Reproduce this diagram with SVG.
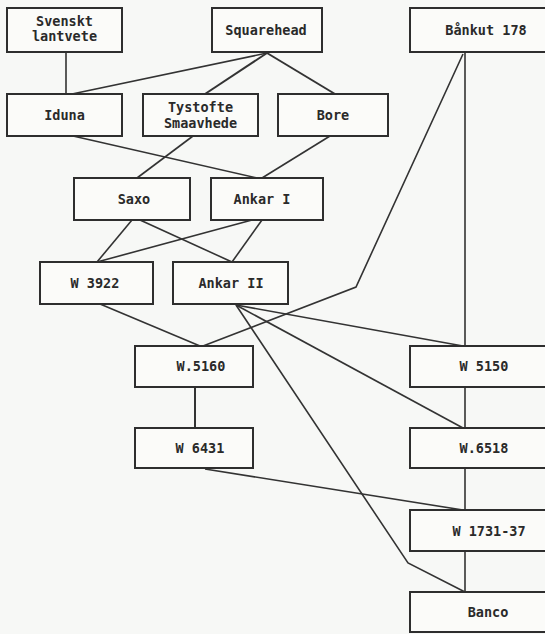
<svg xmlns="http://www.w3.org/2000/svg" width="545" height="634" viewBox="0 0 545 634">
<style>
.n rect{fill:#fbfbf9;stroke:#2e2e2e;stroke-width:2}
.n text{font-family:"DejaVu Sans Mono","Liberation Mono",monospace;font-size:13.5px;font-weight:bold;fill:#2a2a2a;text-anchor:middle}
.c line,.c polyline{stroke:#333;stroke-width:1.6;fill:none}
</style>
<rect width="545" height="634" fill="#f7f8f6"/>
<g class="c" id="connectors">
<line x1="66" y1="52" x2="66" y2="94"/>
<line x1="267" y1="53" x2="72" y2="94"/>
<line x1="267" y1="53" x2="205" y2="94" style="stroke-width:2"/>
<line x1="267" y1="53" x2="335" y2="94" style="stroke-width:2"/>
<line x1="73" y1="136" x2="257" y2="178"/>
<line x1="193" y1="136" x2="137" y2="178"/>
<line x1="330" y1="136" x2="262" y2="178"/>
<line x1="132" y1="220" x2="97" y2="262"/>
<line x1="140" y1="220" x2="232" y2="262"/>
<line x1="252" y1="220" x2="97" y2="262"/>
<line x1="262" y1="220" x2="232" y2="262"/>
<line x1="100" y1="304" x2="200" y2="346"/>
<polyline points="463,54 356,287 203,346"/>
<line x1="465" y1="52" x2="465" y2="346"/>
<line x1="236" y1="305" x2="463" y2="346"/>
<line x1="236" y1="305" x2="463" y2="428"/>
<polyline points="236,305 408,563 465,592"/>
<line x1="195" y1="387" x2="195" y2="428" style="stroke-width:2"/>
<line x1="465" y1="387" x2="465" y2="428"/>
<line x1="205" y1="469" x2="463" y2="510"/>
<line x1="465" y1="468" x2="465" y2="510"/>
<line x1="465" y1="551" x2="465" y2="592"/>
</g>
<g class="n" id="svenskt"><rect x="7" y="8" width="115" height="44"/><text x="64.5" y="26">Svenskt</text><text x="64.5" y="41">lantvete</text></g>
<g class="n" id="squarehead"><rect x="212" y="8" width="110" height="44"/><text x="266" y="35">Squarehead</text></g>
<g class="n" id="bankut"><rect x="410" y="8" width="152" height="44"/><text x="486" y="35">Bånkut 178</text></g>
<g class="n" id="iduna"><rect x="7" y="94" width="115" height="42"/><text x="64.5" y="120">Iduna</text></g>
<g class="n" id="tystofte"><rect x="143" y="94" width="115" height="42"/><text x="200.5" y="112">Tystofte</text><text x="200.5" y="128">Smaavhede</text></g>
<g class="n" id="bore"><rect x="278" y="94" width="110" height="42"/><text x="333" y="120">Bore</text></g>
<g class="n" id="saxo"><rect x="74" y="178" width="116" height="42"/><text x="134" y="204">Saxo</text></g>
<g class="n" id="ankar1"><rect x="211" y="178" width="112" height="42"/><text x="262" y="204">Ankar I</text></g>
<g class="n" id="w3922"><rect x="40" y="262" width="113" height="42"/><text x="95" y="288">W 3922</text></g>
<g class="n" id="ankar2"><rect x="173" y="262" width="115" height="42"/><text x="231" y="288">Ankar II</text></g>
<g class="n" id="w5160"><rect x="135" y="346" width="118" height="41"/><text x="201" y="371">W.5160</text></g>
<g class="n" id="w6431"><rect x="135" y="428" width="118" height="40"/><text x="200" y="453">W 6431</text></g>
<g class="n" id="w5150"><rect x="410" y="346" width="152" height="41"/><text x="484" y="371">W 5150</text></g>
<g class="n" id="w6518"><rect x="410" y="428" width="152" height="40"/><text x="484" y="453">W.6518</text></g>
<g class="n" id="w1731"><rect x="410" y="510" width="152" height="41"/><text x="489" y="536">W 1731-37</text></g>
<g class="n" id="banco"><rect x="410" y="592" width="152" height="40"/><text x="488" y="617">Banco</text></g>
</svg>
